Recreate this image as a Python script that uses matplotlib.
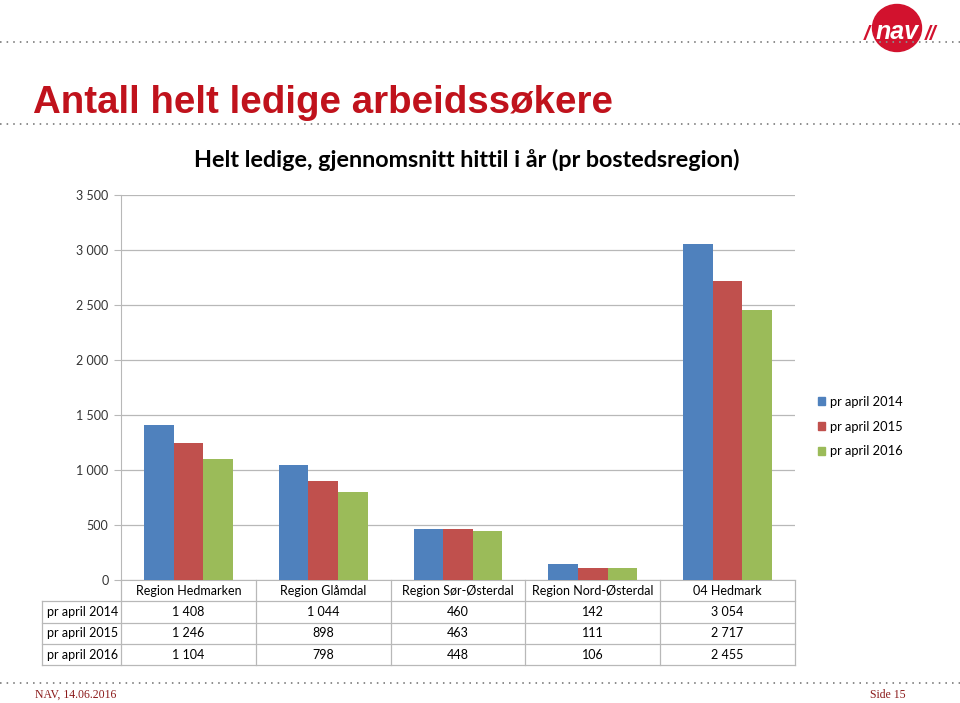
import matplotlib.pyplot as plt
import matplotlib.patches as mpatches
from matplotlib.lines import Line2D
import numpy as np

regions = ["Region Hedmarken", "Region Glåmdal", "Region Sør-Østerdal",
           "Region Nord-Østerdal", "04 Hedmark"]
series_names = ["pr april 2014", "pr april 2015", "pr april 2016"]
v2014 = [1408, 1044, 460, 142, 3054]
v2015 = [1246, 898, 463, 111, 2717]
v2016 = [1104, 798, 448, 106, 2455]
colors = ["#4F81BD", "#C0504D", "#9BBB59"]

W, H = 960, 703
fig = plt.figure(figsize=(9.6, 7.03), dpi=100)
fig.patch.set_facecolor("white")


def fx(px):
    return px / W


def fy(py):
    return 1 - py / H


chart_font = ["Lato", "DejaVu Sans"]

# dotted rules
for y in (42, 124, 683):
    fig.add_artist(Line2D([0, 1], [fy(y), fy(y)], transform=fig.transFigure,
                          color="#8c8c8c", lw=1.4, ls=(0, (0.8, 2.6))))

# page title
fig.text(fx(33), fy(103), "Antall helt ledige arbeidssøkere", color="#C0121C",
         fontsize=27.7, fontweight="bold", va="center", ha="left",
         family="Liberation Sans")

# NAV logo
fig.add_artist(mpatches.Ellipse((fx(897), fy(28)), fx(49) - fx(0), 47 / H,
                                transform=fig.transFigure, color="#D2122E"))
fig.text(fx(897), fy(32), "nav", color="white", fontsize=18, fontweight="bold",
         style="italic", ha="center", va="center", family="Liberation Sans")
fig.text(fx(867), fy(34), "/", color="#D2122E", fontsize=15, fontweight="bold",
         style="italic", ha="center", va="center", family="Liberation Sans")
fig.text(fx(931), fy(34), "//", color="#D2122E", fontsize=15, fontweight="bold",
         style="italic", ha="center", va="center", family="Liberation Sans")

# footer
fig.text(fx(35), fy(695), "NAV, 14.06.2016", color="#8B1A1A", fontsize=8.5,
         va="center", ha="left", family="Liberation Serif")
fig.text(fx(906), fy(695), "Side 15", color="#8B1A1A", fontsize=8.5,
         va="center", ha="right", family="Liberation Serif")

# chart
ax = fig.add_axes([fx(121), fy(580), fx(795) - fx(121), (580 - 195) / H])
x = np.arange(len(regions))
bw = 0.22
for i, (vals, c, name) in enumerate(zip([v2014, v2015, v2016], colors, series_names)):
    ax.bar(x + (i - 1) * bw, vals, bw, color=c, label=name, zorder=3)

ax.set_xlim(-0.5, len(regions) - 0.5)
ax.set_ylim(0, 3500)
ax.set_yticks(np.arange(0, 3501, 500))
ax.set_yticklabels([f"{int(t):,}".replace(",", " ") for t in ax.get_yticks()],
                   family=chart_font, fontsize=9, color="#333333")
ax.set_xticks([])
ax.yaxis.grid(True, color="#b8b8b8", lw=0.9, zorder=0)
ax.tick_params(axis="y", length=5, color="#b8b8b8", pad=4)
for s in ("top", "right"):
    ax.spines[s].set_visible(False)
ax.spines["left"].set_color("#b8b8b8")
ax.spines["bottom"].set_color("#b8b8b8")

ax.set_title("Helt ledige, gjennomsnitt hittil i år (pr bostedsregion)",
             family=chart_font, fontsize=16.8, fontweight="bold", pad=20,
             x=(467 - 121) / (795 - 121))

# data table under the axes
ax_h = 580 - 195
row_h = 21.3 / ax_h
left_col = -79 / (795 - 121)
tr = ax.get_xaxis_transform()
line_kw = dict(color="#b8b8b8", lw=0.9, clip_on=False)
rows = [v2014, v2015, v2016]
n_rows = len(rows) + 1
bottom = -n_rows * row_h
# vertical lines at category boundaries
for b in np.arange(len(regions) + 1) - 0.5:
    ax.plot([b, b], [0, bottom], transform=tr, **line_kw)
ax.plot([left_col, left_col], [-row_h, bottom], transform=ax.transAxes, **line_kw)
for r in range(1, n_rows + 1):
    ax.plot([left_col, 1], [-r * row_h, -r * row_h], transform=ax.transAxes, **line_kw)
for j, reg in enumerate(regions):
    ax.text(j, -0.5 * row_h, reg, transform=tr, ha="center", va="center",
            family=chart_font, fontsize=9)
for r, (name, vals) in enumerate(zip(series_names, rows), start=1):
    ax.text(left_col + 0.008, -(r + 0.5) * row_h, name, transform=ax.transAxes,
            ha="left", va="center", family=chart_font, fontsize=9)
    for j, v in enumerate(vals):
        ax.text(j, -(r + 0.5) * row_h, f"{v:,}".replace(",", " "), transform=tr,
                ha="center", va="center", family=chart_font, fontsize=9)

# legend
handles = [mpatches.Patch(color=c) for c in colors]
leg = fig.legend(handles, series_names, loc="upper left",
                 bbox_to_anchor=(fx(806), fy(384)), frameon=False,
                 handlelength=0.6, handleheight=0.6, handletextpad=0.35,
                 labelspacing=1.0, prop={"family": chart_font, "size": 9.3})

fig.savefig("out.png", dpi=100)
